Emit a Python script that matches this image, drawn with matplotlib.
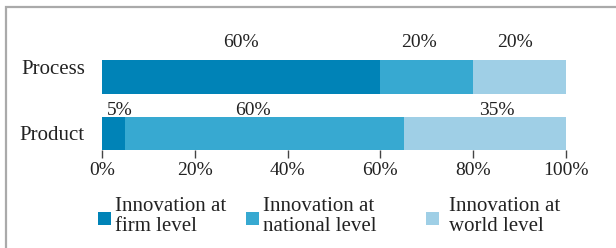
import matplotlib
matplotlib.use("Agg")
import matplotlib.pyplot as plt
from matplotlib.patches import Rectangle
import numpy as np

categories = ["Product", "Process"]
series_names = ["Innovation at\nfirm level", "Innovation at\nnational level", "Innovation at\nworld level"]
firm = [5, 60]
national = [60, 20]
world = [35, 20]
tick_values = [0, 20, 40, 60, 80, 100]
tick_labels = ["0%", "20%", "40%", "60%", "80%", "100%"]

# layout / style
colors = ["#0083B7", "#37A9D1", "#9FCFE6"]
label_shift = [[1.4, -2.4, 2.5], [0.0, -1.7, -0.9]]   # hand placement of value labels (x, percent units)
label_base = [0.318, 0.532]                           # baseline offset above category centre
cat_base = [-0.116, 0.057]                            # category label baseline offsets
legend_sq_x = [98, 246, 426]
legend_txt_x = [115, 263, 449]

plt.rcParams['font.family'] = ['Liberation Serif', 'DejaVu Serif']
TXT = "#222222"
W, H = 616, 248

fig = plt.figure(figsize=(W / 100, H / 100), dpi=100)
fig.patch.set_facecolor("white")

# outer frame (extends past right & bottom edges)
fig.patches.append(Rectangle((6 / W, -0.05), 1.2, (H - 7) / H + 0.05, transform=fig.transFigure,
                             fill=False, edgecolor="#aaaaaa", lw=1.6, clip_on=False))

ax = fig.add_axes([102 / W, (H - 150) / H, 464 / W, (150 - 28) / H])
y = np.arange(len(categories))
h = 0.59
series = [firm, national, world]
left = np.zeros(len(categories))
for si, (vals, col) in enumerate(zip(series, colors)):
    vals = np.array(vals, dtype=float)
    ax.barh(y, vals, left=left, height=h, color=col, linewidth=0)
    for yi, (l, v) in enumerate(zip(left, vals)):
        ax.text(l + v / 2 + label_shift[yi][si], yi + label_base[yi], f"{int(v)}%",
                ha="center", va="baseline", fontsize=14, color=TXT)
    left += vals

ax.set_xlim(0, 100)
ax.set_ylim(-h / 2, 1.87)
ax.set_yticks([])
for yi, cat in enumerate(categories):
    ax.text(-17 / 464, yi + cat_base[yi], cat, transform=ax.get_yaxis_transform(),
            ha="right", va="baseline", fontsize=15, color=TXT)
ax.set_xticks(tick_values)
ax.set_xticklabels(tick_labels, fontsize=14, color=TXT)
ax.tick_params(axis="x", length=5.5, width=1, color="#444444", pad=2.8)
for s in ax.spines.values():
    s.set_visible(False)

# legend
for name, col, sx, tx in zip(series_names, colors, legend_sq_x, legend_txt_x):
    fig.patches.append(Rectangle((sx / W, (H - 225) / H), 13 / W, 13 / H,
                                 transform=fig.transFigure, facecolor=col, edgecolor="none"))
    for li, line in enumerate(name.split("\n")):
        fig.text(tx / W, (H - (211 + 20 * li)) / H, line, ha="left", va="baseline",
                 fontsize=15, color=TXT)

fig.savefig("out.png", dpi=100, facecolor="white")
